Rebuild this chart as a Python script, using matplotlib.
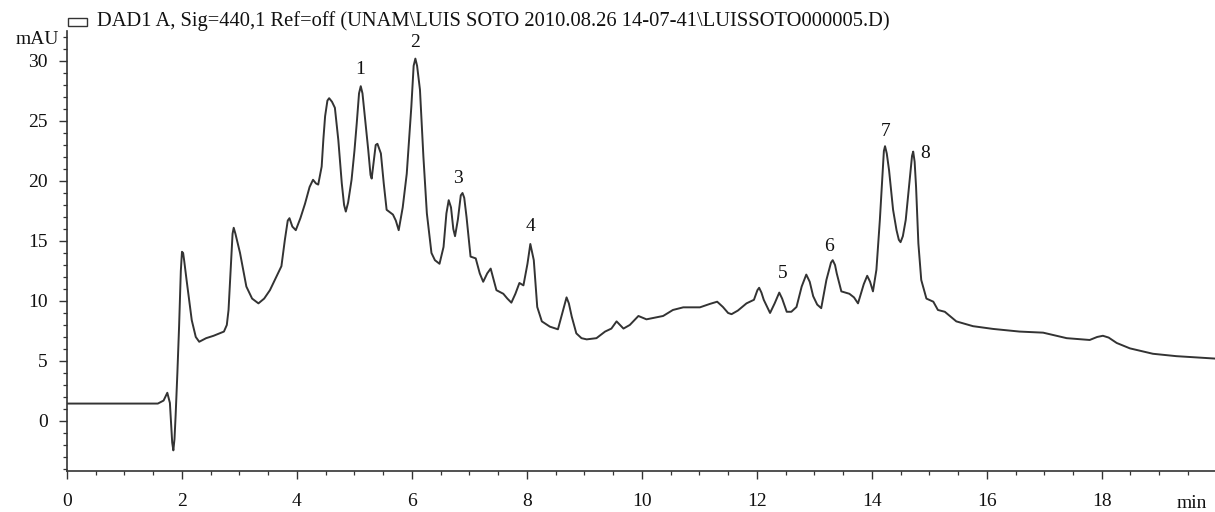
import matplotlib
matplotlib.use("Agg")
import matplotlib.pyplot as plt
import matplotlib.patches as patches
from matplotlib.ticker import MultipleLocator

plt.rcParams['font.family'] = ['Liberation Serif', 'DejaVu Serif']

# retention time (min) and absorbance (mAU)
time_min = [0.0, 0.5, 1.0, 1.58, 1.68, 1.745, 1.79, 1.83, 1.85, 1.87,
            1.89, 1.92, 1.95, 1.98, 2.00, 2.02, 2.04, 2.08, 2.17, 2.24,
            2.30, 2.42, 2.55, 2.73, 2.78, 2.81, 2.85, 2.88, 2.90, 2.93,
            3.01, 3.12, 3.22, 3.33, 3.43, 3.53, 3.64, 3.73, 3.79, 3.84,
            3.87, 3.92, 3.98, 4.06, 4.14, 4.22, 4.28, 4.33, 4.37, 4.43,
            4.46, 4.49, 4.53, 4.56, 4.61, 4.66, 4.72, 4.78, 4.82, 4.85,
            4.89, 4.95, 5.00, 5.04, 5.08, 5.11, 5.14, 5.18, 5.24, 5.28,
            5.30, 5.34, 5.37, 5.40, 5.46, 5.51, 5.56, 5.67, 5.72, 5.77,
            5.84, 5.91, 5.99, 6.03, 6.06, 6.09, 6.14, 6.20, 6.26, 6.34,
            6.40, 6.48, 6.55, 6.60, 6.64, 6.68, 6.72, 6.75, 6.80, 6.85,
            6.88, 6.91, 6.95, 7.02, 7.11, 7.18, 7.24, 7.31, 7.37, 7.42,
            7.47, 7.59, 7.66, 7.73, 7.80, 7.87, 7.94, 8.01, 8.06, 8.12,
            8.18, 8.26, 8.40, 8.54, 8.63, 8.69, 8.73, 8.78, 8.86, 8.95,
            9.04, 9.21, 9.36, 9.47, 9.56, 9.62, 9.68, 9.79, 9.94, 10.08,
            10.37, 10.54, 10.72, 11.01, 11.18, 11.31, 11.41, 11.50, 11.56, 11.67,
            11.82, 11.95, 12.01, 12.04, 12.08, 12.12, 12.23, 12.31, 12.39, 12.44,
            12.52, 12.60, 12.69, 12.78, 12.86, 12.92, 12.98, 13.05, 13.12, 13.21,
            13.29, 13.32, 13.36, 13.39, 13.47, 13.61, 13.69, 13.76, 13.86, 13.92,
            13.97, 14.02, 14.08, 14.14, 14.19, 14.21, 14.23, 14.26, 14.30, 14.37,
            14.43, 14.47, 14.50, 14.54, 14.59, 14.66, 14.70, 14.72, 14.745, 14.77,
            14.81, 14.86, 14.95, 15.07, 15.15, 15.27, 15.47, 15.76, 16.11, 16.57,
            16.98, 17.39, 17.79, 17.92, 18.02, 18.12, 18.26, 18.49, 18.89, 19.30,
            19.97]
mau = [1.45, 1.45, 1.45, 1.45, 1.7, 2.35, 1.5, -1.8, -2.45, -1.5,
       0.5, 4.0, 7.9, 12.5, 14.1, 14.0, 13.3, 11.75, 8.4, 7.0,
       6.6, 6.9, 7.1, 7.45, 8.0, 9.25, 12.9, 15.6, 16.1, 15.6,
       14.0, 11.2, 10.2, 9.8, 10.2, 10.9, 12.0, 12.9, 15.1, 16.7,
       16.9, 16.2, 15.9, 16.9, 18.1, 19.5, 20.1, 19.8, 19.7, 21.2,
       23.5, 25.4, 26.7, 26.9, 26.6, 26.1, 23.4, 19.8, 18.0, 17.45,
       18.2, 20.1, 22.5, 24.8, 27.3, 27.9, 27.3, 25.4, 22.6, 20.5,
       20.2, 21.8, 23.0, 23.1, 22.3, 19.8, 17.6, 17.2, 16.7, 15.9,
       17.8, 20.6, 26.2, 29.6, 30.2, 29.6, 27.6, 22.0, 17.3, 14.0,
       13.4, 13.1, 14.5, 17.3, 18.4, 17.8, 16.0, 15.4, 16.8, 18.8,
       19.0, 18.6, 17.0, 13.7, 13.55, 12.3, 11.6, 12.3, 12.7, 11.8,
       10.9, 10.6, 10.2, 9.86, 10.6, 11.5, 11.3, 13.1, 14.75, 13.4,
       9.5, 8.3, 7.86, 7.64, 9.25, 10.3, 9.8, 8.7, 7.3, 6.9,
       6.8, 6.9, 7.45, 7.7, 8.3, 8.0, 7.7, 8.0, 8.75, 8.47,
       8.75, 9.25, 9.47, 9.47, 9.75, 9.94, 9.5, 9.0, 8.9, 9.2,
       9.8, 10.1, 10.9, 11.1, 10.7, 10.1, 9.0, 9.8, 10.7, 10.2,
       9.1, 9.1, 9.5, 11.2, 12.2, 11.6, 10.4, 9.7, 9.4, 11.75,
       13.2, 13.4, 13.0, 12.3, 10.8, 10.6, 10.3, 9.8, 11.4, 12.1,
       11.6, 10.8, 12.6, 16.75, 20.9, 22.5, 22.9, 22.3, 20.9, 17.6,
       15.9, 15.1, 14.9, 15.4, 16.75, 20.1, 22.1, 22.45, 21.6, 19.5,
       14.8, 11.75, 10.2, 9.94, 9.25, 9.1, 8.3, 7.9, 7.67, 7.45,
       7.36, 6.9, 6.75, 7.0, 7.1, 6.95, 6.5, 6.05, 5.6, 5.4,
       5.2]

# numbered peaks: label, time, height of the label
peak_labels = ['1', '2', '3', '4', '5', '6', '7', '8']
peak_x = [5.10, 6.05, 6.80, 8.07, 12.45, 13.25, 14.24, 14.92]
peak_y = [29.3, 31.5, 20.2, 16.2, 12.3, 14.5, 24.1, 22.3]

title = "DAD1 A, Sig=440,1 Ref=off (UNAM\\LUIS SOTO 2010.08.26 14-07-41\\LUISSOTO000005.D)"
W, H = 1215, 512
ink = '#333333'
fs = 14

fig = plt.figure(figsize=(W / 100, H / 100), dpi=100)
ax = fig.add_axes([67 / W, 41 / H, (W - 67) / W, 440 / H])

ax.plot(time_min, mau, color=ink, lw=1.4, solid_joinstyle='round')

for lab, x, y in zip(peak_labels, peak_x, peak_y):
    ax.text(x, y, lab, ha='center', va='center', fontsize=fs, color='#111111', clip_on=False)

ax.set_xlim(0, 19.97)
ax.set_ylim(-4.17, 32.5)
ax.xaxis.set_major_locator(MultipleLocator(2))
ax.xaxis.set_minor_locator(MultipleLocator(0.5))
ax.yaxis.set_minor_locator(MultipleLocator(1))
ax.set_yticks([0, 5, 10, 15, 20, 25, 30])

for s in ['top', 'right']:
    ax.spines[s].set_visible(False)
for s in ['left', 'bottom']:
    ax.spines[s].set_color(ink)
    ax.spines[s].set_linewidth(1.2)

ax.tick_params(which='major', length=6, width=1, color=ink, labelsize=fs, labelcolor='#111111')
ax.tick_params(axis='x', which='major', pad=10)
ax.tick_params(axis='y', which='major', pad=8)
ax.tick_params(which='minor', length=3, width=0.9, color=ink)

# header line with the small legend box
fig.add_artist(patches.Rectangle((68 / W, 1 - 26 / H), 19 / W, 8 / H, transform=fig.transFigure,
                                 fill=False, edgecolor=ink, lw=1))
fig.text(97 / W, 1 - 21 / H, title, ha='left', va='center', fontsize=14.8, color='#111111')
fig.text(37 / W, 1 - 39 / H, 'mAU', ha='center', va='center', fontsize=fs, color='#111111')
fig.text(1192 / W, 1 - 503 / H, 'min', ha='center', va='center', fontsize=fs, color='#111111')

fig.savefig('out.png', dpi=100)
